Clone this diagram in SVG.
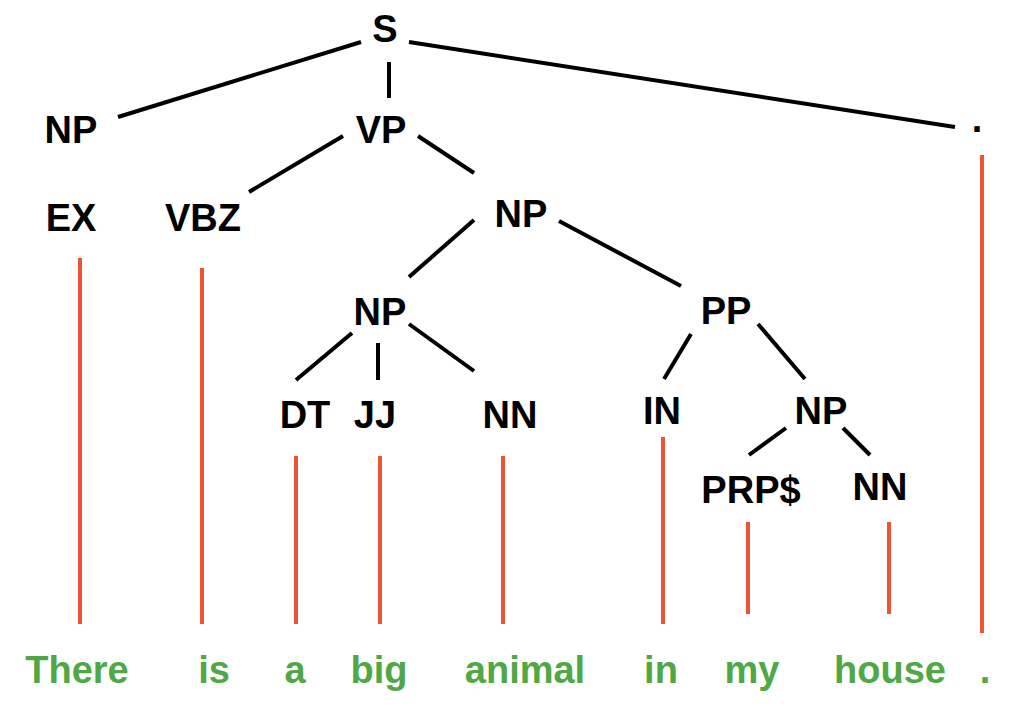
<svg xmlns="http://www.w3.org/2000/svg" width="1014" height="720" viewBox="0 0 1014 720">
<style>
.lab{font-family:"Liberation Sans",Arial,sans-serif;font-weight:bold;font-size:38px;fill:#000;text-anchor:middle}
.word{font-family:"Liberation Sans",Arial,sans-serif;font-weight:bold;font-size:38px;fill:#4FA845;text-anchor:middle}
.e{stroke:#000;stroke-width:4;fill:none}
.t{stroke:#EC5533;stroke-width:4;fill:none}
</style>
<rect width="1014" height="720" fill="#fff"/>
<g id="connectors">
<line class="e" x1="361" y1="42" x2="118" y2="117"/>
<line class="e" x1="389" y1="62" x2="389" y2="98"/>
<line class="e" x1="409" y1="42" x2="955" y2="127"/>
<line class="e" x1="343" y1="136" x2="249" y2="192"/>
<line class="e" x1="418" y1="136" x2="474" y2="173"/>
<line class="e" x1="474" y1="220" x2="409" y2="277"/>
<line class="e" x1="559" y1="221" x2="681" y2="286"/>
<line class="e" x1="352" y1="333" x2="296" y2="380"/>
<line class="e" x1="378" y1="343" x2="378" y2="380"/>
<line class="e" x1="409" y1="324" x2="474" y2="371"/>
<line class="e" x1="691" y1="334" x2="664" y2="379"/>
<line class="e" x1="758" y1="324" x2="805" y2="379"/>
<line class="e" x1="786" y1="428" x2="749" y2="455"/>
<line class="e" x1="843" y1="428" x2="870" y2="455"/>
<line class="t" x1="80" y1="258" x2="80" y2="624"/>
<line class="t" x1="202" y1="268" x2="202" y2="624"/>
<line class="t" x1="296" y1="456" x2="296" y2="624"/>
<line class="t" x1="380" y1="456" x2="380" y2="624"/>
<line class="t" x1="503" y1="456" x2="503" y2="624"/>
<line class="t" x1="663" y1="437" x2="663" y2="624"/>
<line class="t" x1="748" y1="522" x2="748" y2="614"/>
<line class="t" x1="889" y1="522" x2="889" y2="614"/>
<line class="t" x1="982" y1="155" x2="982" y2="633"/>
</g>
<g id="S"><text class="lab" x="385" y="42">S</text></g>
<g id="NP1"><text class="lab" x="71" y="143">NP</text></g>
<g id="VP"><text class="lab" x="381" y="143">VP</text></g>
<g id="PUNCT"><text class="lab" x="977" y="132">.</text></g>
<g id="EX"><text class="lab" x="71" y="231">EX</text></g>
<g id="VBZ"><text class="lab" x="203" y="231">VBZ</text></g>
<g id="NP2"><text class="lab" x="521" y="227">NP</text></g>
<g id="NP3"><text class="lab" x="380" y="325">NP</text></g>
<g id="PP"><text class="lab" x="726" y="324">PP</text></g>
<g id="DT"><text class="lab" x="305" y="428">DT</text></g>
<g id="JJ"><text class="lab" x="375" y="428">JJ</text></g>
<g id="NN1"><text class="lab" x="510" y="428">NN</text></g>
<g id="IN"><text class="lab" x="662" y="424">IN</text></g>
<g id="NP4"><text class="lab" x="821" y="424">NP</text></g>
<g id="PRPS"><text class="lab" x="751" y="503">PRP$</text></g>
<g id="NN2"><text class="lab" x="880" y="500">NN</text></g>
<g id="words">
<text class="word" x="77" y="683">There</text>
<text class="word" x="214" y="683">is</text>
<text class="word" x="295" y="683">a</text>
<text class="word" x="379" y="683">big</text>
<text class="word" x="525" y="683">animal</text>
<text class="word" x="661" y="683">in</text>
<text class="word" x="752" y="683">my</text>
<text class="word" x="890" y="683">house</text>
<text class="word" x="985" y="683">.</text>
</g>
</svg>
